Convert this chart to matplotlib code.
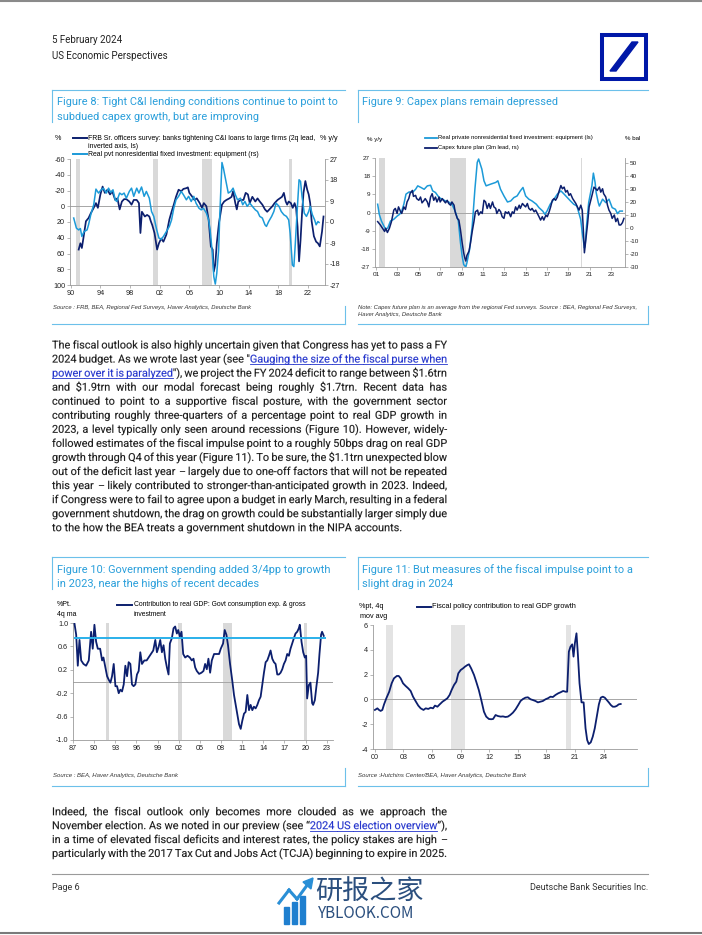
import numpy as np
import matplotlib.pyplot as plt
from matplotlib.lines import Line2D
from matplotlib.patches import Rectangle, Polygon, PathPatch
from matplotlib.textpath import TextPath
from matplotlib.font_manager import FontProperties
from matplotlib.transforms import Affine2D

# ---------------- data ----------------
# Figure 8: FRB senior loan officer survey (ls, inverted) and equipment investment (rs)
fig8_frb_years = [
    1991.07, 1991.3, 1991.5, 1991.7, 1992.05, 1992.4, 1992.7, 1993.1, 1993.4, 1993.66,
    1994.0, 1994.3, 1994.6, 1994.95, 1995.3, 1995.6, 1996.0, 1996.3, 1996.6, 1996.9,
    1997.2, 1997.5, 1997.9, 1998.2, 1998.5, 1998.9, 1999.2, 1999.4, 1999.6, 2000.0,
    2000.3, 2000.6, 2000.8, 2001.0, 2001.3, 2001.65, 2001.9, 2002.2, 2002.5, 2002.9,
    2003.3, 2003.6, 2003.9, 2004.2, 2004.55, 2004.9, 2005.2, 2005.6, 2005.8, 2006.0,
    2006.4, 2006.7, 2007.0, 2007.4, 2007.7, 2007.95, 2008.3, 2008.6, 2008.9, 2009.15,
    2009.3, 2009.5, 2009.7, 2010.0, 2010.4, 2010.7, 2011.0, 2011.4, 2011.7, 2011.9,
    2012.2, 2012.4, 2012.6, 2012.95, 2013.3, 2013.6, 2013.9, 2014.15, 2014.5, 2014.9,
    2015.2, 2015.5, 2015.85, 2016.2, 2016.5, 2016.8, 2017.2, 2017.5, 2017.9, 2018.2,
    2018.5, 2018.75, 2019.0, 2019.2, 2019.4, 2019.7, 2019.95, 2020.2, 2020.4, 2020.6,
    2020.8, 2021.0, 2021.2, 2021.4, 2021.65, 2021.9, 2022.1, 2022.3, 2022.5, 2022.8,
    2023.1, 2023.35, 2023.6, 2023.9, 2024.1]
fig8_frb = [
    55, 47, 53, 41, 19, 15, 9, 2, -4, 2,
    -15, -25, -17, -21, -15, -19, -8, -10, 4, -6,
    -9, -9, -6, -2, -8, -8, -4, 34, 7, 13,
    11, 13, 19, 24, 34, 55, 47, 41, 45, 36,
    17, 7, -2, -12, -21, -19, -22, -23, -24, -17,
    -12, -8, -10, -4, 2, -4, 0, 17, 51, 55,
    83, 74, 47, 21, -2, -6, -8, -10, -12, -19,
    -4, 4, -6, -8, -8, -17, -15, -4, -12, -6,
    -10, -6, -2, 4, 7, 4, 0, -4, -8, -10,
    -12, -17, -6, -2, -6, -4, 2, -4, 2, 26,
    70, 43, 9, -17, -32, -21, -15, -4, 19, 38,
    45, 47, 51, 32, 13]
fig8_eq_years = [
    1990.4, 1990.76, 1991.07, 1991.3, 1991.5, 1991.8, 1992.2, 1992.4, 1992.7, 1993.1,
    1993.4, 1993.75, 1994.1, 1994.4, 1994.8, 1995.1, 1995.4, 1995.7, 1996.0, 1996.2,
    1996.6, 1996.9, 1997.2, 1997.5, 1997.9, 1998.2, 1998.5, 1998.9, 1999.2, 1999.55,
    1999.9, 2000.2, 2000.6, 2000.9, 2001.2, 2001.6, 2001.9, 2002.2, 2002.5, 2002.9,
    2003.3, 2003.6, 2003.9, 2004.2, 2004.55, 2004.9, 2005.2, 2005.6, 2005.9, 2006.25,
    2006.6, 2006.9, 2007.3, 2007.6, 2007.9, 2008.3, 2008.6, 2008.8, 2009.06, 2009.3,
    2009.5, 2009.7, 2009.95, 2010.1, 2010.4, 2010.6, 2010.9, 2011.25, 2011.6, 2011.9,
    2012.2, 2012.5, 2012.9, 2013.2, 2013.5, 2013.8, 2014.15, 2014.5, 2014.9, 2015.2,
    2015.5, 2015.85, 2016.2, 2016.4, 2016.7, 2017.1, 2017.4, 2017.7, 2018.1, 2018.4,
    2018.75, 2019.1, 2019.4, 2019.6, 2019.9, 2020.1, 2020.3, 2020.5, 2020.8, 2021.0,
    2021.2, 2021.5, 2021.8, 2022.1, 2022.3, 2022.6, 2022.9, 2023.1, 2023.35, 2023.5]
fig8_eq = [
    1.7, -2.6, -3.4, -2.8, -6.2, -4.1, -3.4, -1.2, 3.1, 7.4,
    14.1, 12.4, 13.8, 14.5, 12.4, 14.5, 12.7, 13.8, 9.5, 8.8,
    12.4, 11.7, 12.4, 10.2, 13.1, 14.5, 11.0, 14.5, 12.4, 15.0,
    11.0, 13.1, 10.2, 4.5, 2.4, -3.4, -6.9, -7.4, -6.2, -4.1,
    -1.9, 0.9, 5.9, 9.5, 11.0, 13.1, 11.7, 9.5, 11.0, 8.8,
    11.0, 8.1, 5.9, 5.2, 5.9, 3.8, 0.9, -3.4, -12.0, -23.4,
    -26.6, -22.0, -12.0, 2.4, 25.5, 23.0, 18.1, 12.4, 13.1, 14.5,
    11.7, 9.5, 10.2, 7.4, 8.8, 6.7, 8.1, 6.7, 5.2, 4.5,
    2.4, 1.7, -1.2, -1.9, 0.2, 2.4, 4.5, 8.1, 6.7, 4.5,
    3.1, 2.4, 0.9, -4.8, -18.4, -19.1, -9.0, 2.4, 18.1, 17.4,
    11.0, 3.8, 2.4, 4.5, 6.7, 3.1, 0.9, -1.2, 0.2, -0.2]
fig8_rec_start = [1990.76, 2001.1, 2007.7, 2019.4]
fig8_rec_end = [1991.3, 2001.8, 2009.1, 2019.9]

# Figure 9: equipment investment (ls) and capex plans (rs)
fig9_eq_years = [
    2001.15, 2001.3, 2001.5, 2001.7, 2001.9, 2002.1, 2002.35, 2002.65, 2002.97, 2003.2,
    2003.4, 2003.6, 2003.8, 2004.1, 2004.4, 2004.7, 2004.9, 2005.2, 2005.5, 2005.8,
    2006.1, 2006.3, 2006.56, 2006.9, 2007.2, 2007.5, 2007.8, 2008.1, 2008.4, 2008.7,
    2008.9, 2009.06, 2009.2, 2009.4, 2009.5, 2009.75, 2010.0, 2010.25, 2010.47, 2010.6,
    2010.9, 2011.1, 2011.3, 2011.7, 2012.2, 2012.4, 2012.65, 2012.97, 2013.3, 2013.6,
    2013.9, 2014.2, 2014.5, 2014.75, 2015.0, 2015.3, 2015.6, 2016.0, 2016.25, 2016.6,
    2016.8, 2017.0, 2017.3, 2017.65, 2017.97, 2018.3, 2018.6, 2018.9, 2019.2, 2019.5,
    2019.8, 2020.15, 2020.3, 2020.5, 2020.56, 2020.7, 2020.9, 2021.2, 2021.34, 2021.5,
    2021.6, 2021.8, 2021.9, 2022.2, 2022.5, 2022.8, 2023.1, 2023.4, 2023.6, 2023.8,
    2024.05]
fig9_eq = [
    4.1, -0.9, -4.2, -6.4, -8.4, -7.6, -4.2, -3.4, -1.8, -0.9,
    0.7, 4.1, 9.1, 10.2, 9.9, 11.5, 13.2, 12.4, 11.5, 13.2,
    13.5, 10.7, 9.9, 7.4, 6.6, 5.7, 5.2, 4.1, 0.7, -4.2,
    -15.0, -21.7, -25.8, -27.0, -25.0, -18.4, -6.7, 11.5, 24.8, 26.5,
    21.5, 15.7, 13.2, 14.0, 14.9, 15.7, 11.5, 8.2, 5.2, 5.7,
    7.4, 8.2, 10.7, 12.4, 8.2, 6.6, 5.7, 4.1, 2.4, 0.7,
    -0.9, 0.7, 4.1, 6.6, 9.1, 10.7, 9.1, 7.4, 5.7, 4.1,
    3.2, -3.4, -10.0, -17.5, -16.7, -6.7, 4.9, 13.2, 19.5, 14.9,
    9.9, 4.9, 3.2, 6.6, 4.9, 6.6, 2.4, 1.6, -0.6, 0.7,
    0.7]
fig9_capex_years = [
    2001.15, 2001.4, 2001.6, 2001.8, 2001.9, 2002.06, 2002.25, 2002.44, 2002.66, 2002.8,
    2002.97, 2003.1, 2003.3, 2003.4, 2003.6, 2003.75, 2003.9, 2004.06, 2004.2, 2004.4,
    2004.5, 2004.7, 2004.8, 2005.0, 2005.16, 2005.3, 2005.5, 2005.6, 2005.8, 2005.94,
    2006.1, 2006.25, 2006.4, 2006.56, 2006.7, 2006.9, 2007.0, 2007.2, 2007.3, 2007.5,
    2007.66, 2007.8, 2007.97, 2008.1, 2008.3, 2008.4, 2008.6, 2008.75, 2008.9, 2009.06,
    2009.2, 2009.3, 2009.4, 2009.5, 2009.7, 2009.84, 2010.0, 2010.16, 2010.3, 2010.5,
    2010.6, 2010.8, 2010.94, 2011.1, 2011.25, 2011.4, 2011.56, 2011.7, 2011.9, 2012.03,
    2012.2, 2012.3, 2012.5, 2012.66, 2012.8, 2012.97, 2013.1, 2013.3, 2013.4, 2013.6,
    2013.75, 2013.9, 2014.06, 2014.2, 2014.4, 2014.5, 2014.7, 2014.84, 2015.0, 2015.16,
    2015.3, 2015.47, 2015.6, 2015.8, 2015.94, 2016.1, 2016.25, 2016.4, 2016.56, 2016.7,
    2016.9, 2017.03, 2017.2, 2017.34, 2017.5, 2017.66, 2017.8, 2017.97, 2018.1, 2018.3,
    2018.44, 2018.6, 2018.75, 2018.9, 2019.06, 2019.2, 2019.4, 2019.5, 2019.7, 2019.84,
    2020.0, 2020.16, 2020.3, 2020.4, 2020.5, 2020.6, 2020.8, 2020.94, 2021.1, 2021.25,
    2021.4, 2021.56, 2021.7, 2021.9, 2022.03, 2022.2, 2022.3, 2022.5, 2022.66, 2022.8,
    2022.97, 2023.1, 2023.3, 2023.44, 2023.6, 2023.75, 2023.9, 2024.06, 2024.2]
fig9_capex = [
    4.8, 2.2, -0.3, -2.8, -0.3, -3.6, -0.3, 4.8, 13.7, 15.0,
    11.1, 16.2, 12.4, 11.1, 16.2, 14.2, 20.0, 22.6, 26.9, 28.9,
    24.3, 25.1, 22.6, 21.3, 23.8, 19.3, 21.3, 22.6, 20.0, 16.2,
    23.8, 26.4, 21.3, 23.8, 20.0, 23.8, 20.0, 22.6, 21.3, 19.3,
    21.3, 18.8, 17.5, 20.0, 17.5, 12.4, 7.3, 6.0, -1.6, -11.7,
    -19.3, -23.2, -25.7, -21.4, -18.0, -11.7, -2.8, 4.8, 12.4, 13.7,
    9.9, 12.4, 11.1, 21.3, 20.0, 15.0, 18.8, 15.0, 20.0, 16.2,
    15.0, 11.1, 14.2, 12.4, 8.6, 7.3, 12.4, 11.1, 12.4, 8.6,
    12.4, 11.1, 16.2, 13.7, 17.5, 15.0, 18.8, 17.5, 16.2, 18.8,
    15.0, 13.7, 15.0, 12.4, 13.7, 11.1, 8.6, 6.0, 8.6, 6.0,
    9.9, 8.6, 12.4, 16.2, 21.3, 22.6, 21.3, 23.8, 27.6, 32.7,
    30.2, 31.5, 27.6, 28.9, 25.1, 26.4, 22.6, 21.3, 18.8, 16.2,
    13.7, 17.5, 13.7, -1.6, -19.3, -11.7, 3.5, 16.2, 21.3, 26.4,
    31.5, 30.2, 28.9, 31.5, 27.6, 30.2, 26.4, 23.8, 17.5, 13.7,
    11.1, 7.3, 9.9, 4.8, 7.3, 2.2, 2.2, 4.0, 7.3]
fig9_rec_start = [2001.25, 2007.9, 2020.16]
fig9_rec_end = [2001.81, 2009.4, 2020.25]

# Figure 10: government contribution to real GDP, 4q ma
fig10_years = [
    1987.61, 1987.85, 1988.08, 1988.32, 1988.56, 1988.89, 1989.26, 1989.64, 1989.97, 1990.2,
    1990.44, 1990.68, 1990.92, 1991.25, 1991.53, 1991.72, 1992.0, 1992.24, 1992.47, 1992.71,
    1992.94, 1993.18, 1993.42, 1993.65, 1993.89, 1994.12, 1994.36, 1994.6, 1994.83, 1995.07,
    1995.3, 1995.54, 1995.77, 1996.0, 1996.25, 1996.48, 1996.72, 1996.95, 1997.19, 1997.52,
    1997.85, 1998.13, 1998.46, 1998.79, 1999.08, 1999.31, 1999.55, 1999.78, 2000.02, 2000.25,
    2000.49, 2000.73, 2000.96, 2001.15, 2001.43, 2001.67, 2001.9, 2002.14, 2002.33, 2002.57,
    2002.8, 2003.04, 2003.32, 2003.65, 2003.98, 2004.26, 2004.5, 2004.74, 2004.97, 2005.3,
    2005.63, 2005.92, 2006.15, 2006.39, 2006.62, 2006.86, 2007.1, 2007.42, 2007.75, 2008.13,
    2008.37, 2008.7, 2008.93, 2009.17, 2009.4, 2009.69, 2010.02, 2010.25, 2010.49, 2010.73,
    2010.96, 2011.2, 2011.43, 2011.67, 2011.9, 2012.14, 2012.38, 2012.61, 2012.85, 2013.08,
    2013.32, 2013.56, 2013.79, 2014.03, 2014.26, 2014.5, 2014.74, 2014.97, 2015.21, 2015.44,
    2015.68, 2015.92, 2016.15, 2016.39, 2016.62, 2016.86, 2017.1, 2017.33, 2017.57, 2017.8,
    2018.04, 2018.27, 2018.51, 2018.75, 2018.98, 2019.22, 2019.45, 2019.59, 2019.83, 2020.07,
    2020.3, 2020.49, 2020.63, 2020.87, 2021.1, 2021.34, 2021.48, 2021.72, 2021.95, 2022.19,
    2022.38, 2022.61, 2022.75, 2022.99]
fig10_gov = [
    0.99, 0.80, 0.27, 0.71, 0.36, 0.30, 0.27, 0.36, 0.85, 0.56,
    0.97, 0.68, 0.56, 0.56, 0.36, 0.41, 0.24, 0.09, 0.03, -0.02,
    0.09, 0.30, -0.08, -0.08, -0.20, -0.14, -0.17, -0.05, 0.27, 0.09,
    0.33, 0.30, -0.05, -0.08, -0.05, 0.12, 0.18, 0.50, 0.30, 0.36,
    0.36, 0.41, 0.47, 0.53, 0.71, 0.50, 0.59, 0.71, 0.50, 0.62,
    0.39, 0.24, 0.12, 0.65, 0.74, 0.91, 0.94, 0.82, 0.88, 0.77,
    0.85, 0.47, 0.41, 0.44, 0.41, 0.36, 0.39, 0.24, 0.18, 0.13,
    0.15, 0.18, 0.30, 0.21, 0.39, 0.15, 0.36, 0.47, 0.47, 0.47,
    0.56, 0.65, 0.88, 0.80, 0.62, 0.30, 0.00, -0.23, -0.40, -0.58,
    -0.73, -0.81, -0.67, -0.55, -0.52, -0.23, -0.49, -0.40, -0.49, -0.43,
    -0.46, -0.40, -0.32, -0.26, -0.06, 0.15, 0.33, 0.36, 0.44, 0.53,
    0.39, 0.33, 0.30, 0.12, 0.12, 0.15, 0.21, 0.30, 0.36, 0.47,
    0.44, 0.56, 0.65, 0.74, 0.82, 0.85, 0.91, 0.97, 0.68, 0.50,
    0.41, 0.44, -0.29, -0.06, -0.02, -0.37, -0.40, -0.32, -0.08, 0.15,
    0.47, 0.80, 0.85, 0.78]
fig10_avg_2023 = 0.75
fig10_rec_start = [1992.09, 2002.24, 2008.7, 2020.25]
fig10_rec_end = [1992.57, 2002.85, 2010.02, 2020.63]

# Figure 11: Hutchins fiscal impulse, 4q mov avg
fig11_years = [
    2000.0, 2000.26, 2000.43, 2000.6, 2000.78, 2000.96, 2001.2, 2001.5, 2001.76, 2002.0,
    2002.3, 2002.5, 2002.7, 2002.95, 2003.2, 2003.5, 2003.75, 2004.0, 2004.3, 2004.55,
    2004.8, 2005.1, 2005.33, 2005.6, 2005.85, 2006.1, 2006.3, 2006.56, 2006.8, 2007.1,
    2007.35, 2007.6, 2007.84, 2008.05, 2008.3, 2008.54, 2008.75, 2009.0, 2009.24, 2009.45,
    2009.7, 2009.87, 2010.1, 2010.4, 2010.63, 2010.9, 2011.16, 2011.44, 2011.68, 2011.96,
    2012.2, 2012.4, 2012.66, 2012.9, 2013.2, 2013.43, 2013.7, 2013.95, 2014.2, 2014.48,
    2014.76, 2015.04, 2015.28, 2015.53, 2015.8, 2016.05, 2016.33, 2016.57, 2016.85, 2017.1,
    2017.38, 2017.62, 2017.9, 2018.15, 2018.43, 2018.67, 2018.95, 2019.23, 2019.47, 2019.75,
    2020.0, 2020.17, 2020.35, 2020.52, 2020.7, 2020.84, 2020.98, 2021.15, 2021.3, 2021.47,
    2021.68, 2021.9, 2022.1, 2022.27, 2022.44, 2022.65, 2022.86, 2023.07, 2023.28, 2023.5,
    2023.7, 2023.91, 2024.12, 2024.33, 2024.54, 2024.75, 2024.96, 2025.17, 2025.37, 2025.58,
    2025.79]
fig11_fim = [
    -0.85, -0.72, -0.85, -0.93, -0.85, -0.40, 0.09, 0.62, 1.30, 1.70,
    1.89, 1.89, 1.70, 1.30, 1.10, 0.89, 0.68, 0.22, -0.18, -0.50,
    -0.72, -0.85, -0.72, -0.77, -0.67, -0.72, -0.50, -0.59, -0.40, -0.18,
    -0.05, 0.09, 0.36, 0.76, 1.16, 1.43, 2.10, 2.37, 2.50, 2.64,
    2.77, 2.83, 2.50, 1.97, 1.43, 0.76, -0.05, -0.99, -1.39, -1.58,
    -1.60, -1.58, -1.26, -1.34, -1.39, -1.37, -1.42, -1.39, -1.26, -1.07,
    -0.80, -0.45, -0.13, 0.03, 0.14, 0.17, 0.01, -0.05, -0.13, -0.24,
    -0.18, -0.13, 0.01, 0.09, 0.22, 0.19, 0.36, 0.49, 0.57, 0.68,
    0.62, 0.62, 3.85, 4.25, 4.44, 3.45, 4.52, 5.33, 3.58, 1.30,
    -0.24, -0.24, -2.33, -3.27, -3.60, -3.46, -3.00, -2.33, -1.39, -0.40,
    0.14, 0.22, 0.14, -0.05, -0.24, -0.45, -0.59, -0.59, -0.53, -0.40,
    -0.37]
fig11_rec_start = [2001.2, 2008.0, 2020.1]
fig11_rec_end = [2001.93, 2009.5, 2020.6]

para1 = [
    'The fiscal outlook is also highly uncertain given that Congress has yet to pass a FY',
    '2024 budget. As we wrote last year (see "{Gauging the size of the fiscal purse when}',
    '{power over it is paralyzed}"), we project the FY 2024 deficit to range between $1.6trn',
    'and $1.9trn with our modal forecast being roughly $1.7trn. Recent data has',
    'continued to point to a supportive fiscal posture, with the government sector',
    'contributing roughly three-quarters of a percentage point to real GDP growth in',
    '2023, a level typically only seen around recessions (Figure 10). However, widely-',
    'followed estimates of the fiscal impulse point to a roughly 50bps drag on real GDP',
    'growth through Q4 of this year (Figure 11). To be sure, the $1.1trn unexpected blow',
    'out of the deficit last year \u2013 largely due to one-off factors that will not be repeated',
    'this year \u2013 likely contributed to stronger-than-anticipated growth in 2023. Indeed,',
    'if Congress were to fail to agree upon a budget in early March, resulting in a federal',
    'government shutdown, the drag on growth could be substantially larger simply due',
    'to the how the BEA treats a government shutdown in the NIPA accounts.',
]
para2 = [
    'Indeed, the fiscal outlook only becomes more clouded as we approach the',
    'November election. As we noted in our preview (see \u201c{2024 US election overview}\u201d),',
    'in a time of elevated fiscal deficits and interest rates, the policy stakes are high \u2013',
    'particularly with the 2017 Tax Cut and Jobs Act (TCJA) beginning to expire in 2025.',
]

# ---------------- styling ----------------
W, H = 702, 935
NAVY = '#0c1f6e'
CYAN = '#1c9ad8'
TITLE_C = '#2a9fdb'
FRAME_C = '#6cc0ea'
REC_C = '#d9d9d9'
ZERO_C = '#a6a6a6'
AX_C = '#9a9a9a'
BODY_C = '#1a1a1a'
LINK_C = '#2233cc'
DB_BLUE = '#0018a8'
BODY_FONT = ['Roboto', 'DejaVu Sans']
BODY_PROP = FontProperties(family=BODY_FONT)
plt.rcParams['font.family'] = ['Liberation Sans', 'DejaVu Sans']

fig = plt.figure(figsize=(W / 100, H / 100), dpi=100)
fig.patch.set_facecolor('white')


def fx(x):
    return x / W


def fy(y):
    return 1 - y / H


def txt(x, y, s, **kw):
    kw.setdefault('va', 'center')
    return fig.text(fx(x), fy(y), s, **kw)


def seg(x0, y0, x1, y1, **kw):
    fig.add_artist(Line2D([fx(x0), fx(x1)], [fy(y0), fy(y1)], transform=fig.transFigure, **kw))


def frame(l, r, t, b):
    seg(l, t, r, t, color=FRAME_C, lw=0.8)
    seg(l, t, l, t + 32, color=FRAME_C, lw=0.8)
    seg(l, b, r, b, color=FRAME_C, lw=0.8)
    seg(r, b - 18, r, b, color=FRAME_C, lw=0.8)


def chart(l, t, r, b, xlim, ylim, xticks, xlabels, yticks, ylabels, fs):
    ax = fig.add_axes([fx(l), fy(b), (r - l) / W, (b - t) / H])
    ax.set_xlim(*xlim)
    ax.set_ylim(*ylim)
    ax.set_xticks(xticks)
    ax.set_xticklabels(xlabels)
    ax.set_yticks(yticks)
    ax.set_yticklabels(ylabels)
    ax.spines['top'].set_visible(False)
    ax.spines['right'].set_visible(False)
    for s in ('left', 'bottom'):
        ax.spines[s].set_color(AX_C)
        ax.spines[s].set_linewidth(0.6)
    ax.tick_params(labelsize=fs, length=2, width=0.5, color=AX_C, labelcolor='#222222', pad=1.5)
    ax.patch.set_alpha(0)
    return ax


def twin(ax, ylim, yticks, ylabels, fs):
    t = ax.twinx()
    t.set_ylim(*ylim)
    t.set_yticks(yticks)
    t.set_yticklabels(ylabels)
    for s in ('top', 'left', 'bottom'):
        t.spines[s].set_visible(False)
    t.spines['right'].set_color(AX_C)
    t.spines['right'].set_linewidth(0.6)
    t.tick_params(labelsize=fs, length=2, width=0.5, color=AX_C, labelcolor='#222222', pad=1.5)
    return t


def recessions(ax, starts, ends, color=REC_C):
    for s, e in zip(starts, ends):
        ax.axvspan(s, e, color=color, lw=0, zorder=0)


# ---------------- page header / footer ----------------
seg(0, 1, W, 1, color='#8a8a8a', lw=1.5)
txt(52, 40, '5 February 2024', fontsize=7, family=BODY_FONT, color='#222222')
txt(52, 56, 'US Economic Perspectives', fontsize=7, family=BODY_FONT, color='#222222')
fig.add_artist(Rectangle((fx(602), fy(79)), 44 / W, 44 / H, fill=False, lw=2.9,
                         edgecolor=DB_BLUE, transform=fig.transFigure))
fig.add_artist(Polygon([(fx(610), fy(71)), (fx(616), fy(71)), (fx(638), fy(42)), (fx(632), fy(42))],
                       closed=True, color=DB_BLUE, transform=fig.transFigure))

seg(52, 874, 648, 874, color='#9a9a9a', lw=0.8)
txt(52, 888, 'Page 6', fontsize=6.5, family=BODY_FONT, color='#333333')
txt(648, 888, 'Deutsche Bank Securities Inc.', fontsize=6.5, family=BODY_FONT, color='#333333', ha='right')
seg(0, 933, W, 933, color='#7a7a7a', lw=1.5)

# watermark
for bx, bt in zip([284, 292, 300], [907, 902, 896]):
    fig.add_artist(Rectangle((fx(bx), fy(924)), 5 / W, (924 - bt) / H, color='#1f7fcf',
                             transform=fig.transFigure))
seg(279, 903, 289, 890, color='#2a8fd6', lw=2.2)
seg(289, 890, 297, 899, color='#2a8fd6', lw=2.2)
seg(297, 899, 308, 884, color='#2a8fd6', lw=2.2)
fig.add_artist(Polygon([(fx(303), fy(882)), (fx(313), fy(878)), (fx(311), fy(889))], closed=True,
                       color='#2a8fd6', transform=fig.transFigure))
txt(315, 891, '研报之家', fontsize=19.5, family=['Noto Sans CJK SC'], color='#2b4f7e')
txt(318, 914, 'YBLOOK.COM', fontsize=11, family=['Noto Sans CJK SC'], color='#2b4f7e')

# ---------------- Figure 8 ----------------
frame(52, 345, 90, 324)
txt(57, 102, 'Figure 8: Tight C&I lending conditions continue to point to', fontsize=7.9,
    family=BODY_FONT, color=TITLE_C)
txt(57, 117, 'subdued capex growth, but are improving', fontsize=7.9, family=BODY_FONT, color=TITLE_C)
txt(55, 138, '%', fontsize=5.2)
txt(320, 138, '% y/y', fontsize=5.2)
seg(73, 138, 87, 138, color=NAVY, lw=1.4)
txt(88.5, 138, 'FRB Sr. officers survey: banks tightening C&I loans to large firms (2q lead,', fontsize=4.95)
txt(88.5, 146, 'inverted axis, ls)', fontsize=4.95)
seg(73, 154, 87, 154, color=CYAN, lw=1.4)
txt(88.5, 154, 'Real pvt nonresidential fixed investment: equipment (rs)', fontsize=4.95)
txt(53, 307, 'Source : FRB, BEA, Regional Fed Surveys, Haver Analytics, Deutsche Bank', fontsize=4.2,
    style='italic', color='#333333')

y8 = list(range(-60, 101, 20))
ax8 = chart(70, 159, 325, 285, (1989.9, 2024.3), (100, -60),
            list(range(1990, 2023, 4)), ['%02d' % (y % 100) for y in range(1990, 2023, 4)],
            y8, [str(v) for v in y8], 5.2)
recessions(ax8, fig8_rec_start, fig8_rec_end)
ax8.axhline(0, color=ZERO_C, lw=0.7, zorder=1)
ax8.plot(fig8_frb_years, fig8_frb, color=NAVY, lw=1.25, zorder=3)
y8r = list(range(-27, 28, 9))
ax8b = twin(ax8, (-27, 27), y8r, [str(v) for v in y8r], 5.2)
ax8b.plot(fig8_eq_years, fig8_eq, color=CYAN, lw=1.1)

# ---------------- Figure 9 ----------------
frame(358, 648, 90, 324)
txt(362, 102, 'Figure 9: Capex plans remain depressed', fontsize=7.9, family=BODY_FONT, color=TITLE_C)
txt(367, 139, '% y/y', fontsize=4.4)
txt(625, 139, '% bal', fontsize=4.4)
seg(425, 137.5, 437, 137.5, color=CYAN, lw=1.3)
txt(438.5, 137.5, 'Real private nonresidential fixed investment: equipment (ls)', fontsize=4.25)
seg(425, 148, 437, 148, color=NAVY, lw=1.3)
txt(438.5, 148, 'Capex future plan (3m lead, rs)', fontsize=4.25)
txt(358, 307, 'Note: Capex future plan is an average from the regional Fed surveys. Source : BEA, '
    'Regional Fed Surveys,', fontsize=4.25, style='italic', color='#333333')
txt(358, 314.5, 'Haver Analytics, Deutsche Bank', fontsize=4.25, style='italic', color='#333333')

y9 = list(range(-27, 28, 9))
ax9 = chart(375, 158, 625, 267, (2000.9, 2024.3), (-27, 27),
            list(range(2001, 2024, 2)), ['%02d' % (y % 100) for y in range(2001, 2024, 2)],
            y9, [str(v) for v in y9], 4.6)
recessions(ax9, fig9_rec_start, fig9_rec_end)
ax9.axhline(0, color=ZERO_C, lw=0.7, zorder=1)
ax9.plot(fig9_eq_years, fig9_eq, color=CYAN, lw=1.1, zorder=3)
y9r = list(range(-30, 51, 10))
ax9b = twin(ax9, (-30.3, 54), y9r, [str(v) for v in y9r], 4.6)
ax9b.plot(fig9_capex_years, fig9_capex, color=NAVY, lw=1.1)

# ---------------- body text (justified, drawn as glyph paths so baselines line up) ----------------
R = fig.canvas.get_renderer()
BODY_L, BODY_R = 52, 447


def text_w(s, fs):
    t = fig.text(0, 0, s, fontsize=fs, family=BODY_FONT, parse_math=False)
    w = t.get_window_extent(R).width
    t.remove()
    return w


def word(x, base, s, fs, color):
    if s == '\u2013':
        # a lone dash: plain text is safe here (no descender)
        fig.text(fx(x), fy(base), s, fontsize=fs, family=BODY_FONT, color=color, va='baseline')
        return
    tp = TextPath((0, 0), s, size=fs, prop=BODY_PROP)
    tr = Affine2D().scale(1 / 72).translate(x / 100, (H - base) / 100) + fig.dpi_scale_trans
    fig.add_artist(PathPatch(tp, transform=tr, facecolor=color, edgecolor=color, lw=0.1))


def split_words(line, link):
    words = []
    for w in line.split(' '):
        parts, buf = [], ''
        for ch in w:
            if ch in '{}':
                if buf:
                    parts.append((buf, link))
                    buf = ''
                link = ch == '{'
            else:
                buf += ch
        if buf:
            parts.append((buf, link))
        words.append(parts)
    return words, link


def paragraph(lines, y0, dy, fs, justify_last=False):
    link = False
    space = text_w('a a', fs) - text_w('aa', fs)
    for i, line in enumerate(lines):
        words, link = split_words(line, link)
        widths = [[text_w(p, fs) for p, _ in wd] for wd in words]
        total = sum(sum(ws) for ws in widths)
        last = i == len(lines) - 1 and not justify_last
        gap = space if last else (BODY_R - BODY_L - total) / (len(words) - 1)
        x = BODY_L
        base = y0 + i * dy
        for j, (wd, ws) in enumerate(zip(words, widths)):
            for k, ((p, lk), w) in enumerate(zip(wd, ws)):
                word(x, base, p, fs, LINK_C if lk else BODY_C)
                if lk:
                    end = x + w
                    if k == len(wd) - 1 and j + 1 < len(words) and words[j + 1][0][1]:
                        end += gap
                    seg(x, base + 1.6, end, base + 1.6, color=LINK_C, lw=0.6)
                x += w
            x += gap


paragraph(para1, 348.5, 14.05, 7.85)
paragraph(para2, 815.2, 13.9, 7.85, justify_last=True)

# ---------------- Figure 10 ----------------
frame(52, 345, 557, 786)
txt(57, 570, 'Figure 10: Government spending added 3/4pp to growth', fontsize=7.9, family=BODY_FONT,
    color=TITLE_C)
txt(57, 584, 'in 2023, near the highs of recent decades', fontsize=7.9, family=BODY_FONT, color=TITLE_C)
txt(57, 605, '%Pt.', fontsize=5)
txt(57, 614, '4q ma', fontsize=5)
seg(117, 605, 132, 605, color=NAVY, lw=1.4)
txt(133.5, 605, 'Contribution to real GDP: Govt consumption exp. & gross', fontsize=4.85)
txt(133.5, 614, 'investment', fontsize=4.85)
txt(53, 775, 'Source : BEA, Haver Analytics, Deutsche Bank', fontsize=4.3, style='italic', color='#333333')

y10 = [-1.0, -0.6, -0.2, 0.2, 0.6, 1.0]
x10 = list(range(1987, 2024, 3))
ax10 = chart(73, 623, 333, 740, (1987.45, 2024.3), (-1.0, 1.0),
             [y + 0.4 for y in x10], ['%02d' % (y % 100) for y in x10],
             y10, ['%.1f' % v for v in y10], 5.2)
recessions(ax10, fig10_rec_start, fig10_rec_end)
ax10.axhline(0, color=ZERO_C, lw=0.7, zorder=1)
ax10.plot(fig10_years, fig10_gov, color=NAVY, lw=1.3, zorder=3)
ax10.hlines(fig10_avg_2023, fig10_years[0], fig10_years[-1] + 0.3, color='#2ab0ea', lw=1.4, zorder=4)

# ---------------- Figure 11 ----------------
frame(358, 648, 557, 786)
txt(362, 570, 'Figure 11: But measures of the fiscal impulse point to a', fontsize=7.9, family=BODY_FONT,
    color=TITLE_C)
txt(362, 584, 'slight drag in 2024', fontsize=7.9, family=BODY_FONT, color=TITLE_C)
txt(359, 607, '%pt, 4q', fontsize=5.2)
txt(360, 616, 'mov avg', fontsize=5.2)
seg(417, 607, 431, 607, color=NAVY, lw=1.4)
txt(432.5, 607, 'Fiscal policy contribution to real GDP growth', fontsize=5.3)
txt(358, 775, 'Source :Hutchins Center/BEA, Haver Analytics, Deutsche Bank', fontsize=4.3,
    style='italic', color='#333333')

y11 = list(range(-4, 7, 2))
x11 = list(range(2000, 2025, 3))
ax11 = chart(373, 625, 637, 749, (1999.8, 2027.5), (-4, 6),
             x11, ['%02d' % (y % 100) for y in x11], y11, [str(v) for v in y11], 5.2)
recessions(ax11, fig11_rec_start, fig11_rec_end, color='#e3e3e3')
ax11.axhline(0, color=ZERO_C, lw=0.7, zorder=1)
ax11.plot(fig11_years, fig11_fim, color=NAVY, lw=1.3, zorder=3)

fig.savefig('out.png', dpi=100, facecolor='white')
